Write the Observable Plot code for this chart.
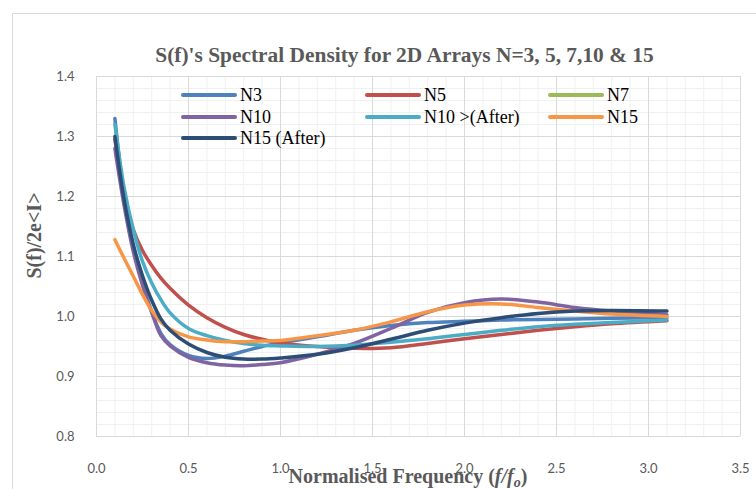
<!DOCTYPE html>
<html>
<head>
<meta charset="utf-8">
<script src="https://cdn.jsdelivr.net/npm/d3@7"></script>
<script src="https://cdn.jsdelivr.net/npm/@observablehq/plot@0.6"></script>
<style>
  html, body { margin: 0; padding: 0; background: #fff; }
  #chart { width: 756px; height: 489px; overflow: hidden; }
</style>
</head>
<body>
<div id="chart"></div>
<script>
// ---- data ----
const freq = [0.1, 0.15, 0.2, 0.25, 0.3, 0.35, 0.4, 0.5, 0.6, 0.7, 0.8, 0.9, 1.0, 1.2, 1.4, 1.6, 1.8, 2.0, 2.2, 2.4, 2.6, 2.8, 3.1];

const N3 = [1.33, 1.20, 1.115, 1.055, 1.008, 0.972, 0.953, 0.935, 0.930, 0.934, 0.942, 0.950, 0.956, 0.966, 0.977, 0.985, 0.990, 0.992, 0.994, 0.995, 0.996, 0.997, 0.998];
const N5 = [1.295, 1.205, 1.145, 1.11, 1.085, 1.064, 1.047, 1.019, 0.998, 0.982, 0.970, 0.962, 0.956, 0.950, 0.947, 0.948, 0.955, 0.963, 0.970, 0.977, 0.983, 0.988, 0.993];
const N7 = []; // listed in the legend, no visible curve in the reference
const N10 = [1.28, 1.185, 1.108, 1.052, 1.007, 0.968, 0.951, 0.932, 0.923, 0.919, 0.918, 0.920, 0.923, 0.937, 0.955, 0.980, 1.007, 1.023, 1.029, 1.024, 1.015, 1.009, 1.003];
const N10After = [1.32, 1.215, 1.145, 1.092, 1.056, 1.028, 1.006, 0.980, 0.968, 0.960, 0.955, 0.952, 0.951, 0.950, 0.952, 0.957, 0.963, 0.970, 0.977, 0.983, 0.987, 0.990, 0.994];
const N15 = [1.128, 1.097, 1.067, 1.037, 1.010, 0.991, 0.979, 0.966, 0.961, 0.958, 0.958, 0.959, 0.960, 0.968, 0.977, 0.991, 1.008, 1.019, 1.021, 1.015, 1.009, 1.004, 1.000];
const N15After = [1.30, 1.195, 1.12, 1.068, 1.027, 0.996, 0.977, 0.954, 0.940, 0.932, 0.929, 0.929, 0.931, 0.937, 0.948, 0.962, 0.977, 0.989, 0.998, 1.005, 1.009, 1.010, 1.009];

const seriesNames = ["N3", "N5", "N7", "N10", "N10 >(After)", "N15", "N15 (After)"];
const seriesValues = [N3, N5, N7, N10, N10After, N15, N15After];
const seriesColors = ["#4F81BD", "#C0504D", "#9BBB59", "#8064A2", "#4BACC6", "#F79646", "#2C4D75"];

const xTicks = [0, 0.5, 1.0, 1.5, 2.0, 2.5, 3.0, 3.5];
const yTicks = [0.8, 0.9, 1.0, 1.1, 1.2, 1.3, 1.4];

const titleText = "S(f)'s Spectral Density for 2D Arrays N=3, 5, 7,10 & 15";
const yTitleText = "S(f)/2e<I>";

// ---- build table ----
const rows = seriesNames.flatMap((name, k) =>
  seriesValues[k].map((v, i) => ({ f: freq[i], s: v, name })));

const xMinor = d3.range(0, 35.01, 1).map(d => d / 10);
const yMinor = d3.range(40, 70.01, 1).map(d => d / 50);

const W = 756, H = 489;
const mL = 96, mR = 16, mT = 76, mB = 53;
const serif = "'Liberation Serif', 'Times New Roman', serif";

const plot = Plot.plot({
  width: W,
  height: H,
  marginLeft: mL,
  marginRight: mR,
  marginTop: mT,
  marginBottom: mB,
  style: { fontFamily: "Lato, 'Liberation Sans', sans-serif", fontSize: "13px", color: "#595959", background: "#fff", overflow: "visible" },
  x: { domain: [0, 3.5], label: null },
  y: { domain: [0.8, 1.4], label: null },
  color: { domain: seriesNames, range: seriesColors },
  marks: [
    Plot.ruleX(xMinor, { stroke: "#f0f0f0", strokeWidth: 1 }),
    Plot.ruleY(yMinor, { stroke: "#f0f0f0", strokeWidth: 1 }),
    Plot.ruleX(xTicks, { stroke: "#d9d9d9", strokeWidth: 1 }),
    Plot.ruleY(yTicks, { stroke: "#d9d9d9", strokeWidth: 1 }),
    Plot.axisX({ ticks: xTicks, tickFormat: d3.format(".1f"), tickSize: 0, tickPadding: 27, label: null }),
    Plot.axisY({ ticks: yTicks, tickFormat: d3.format(".1f"), tickSize: 0, tickPadding: 22, label: null }),
    Plot.line(rows, {
      x: "f", y: "s", z: "name", stroke: "name",
      curve: "catmull-rom", strokeWidth: 3.5, strokeLinecap: "round", strokeLinejoin: "round"
    }),
    Plot.text([titleText], {
      text: d => d, frameAnchor: "top", lineAnchor: "middle", textAnchor: "middle", dx: -14, dy: -21,
      fontFamily: serif, fontWeight: "bold", fontSize: 21.4, fill: "#595959"
    }),
    Plot.text([yTitleText], {
      text: d => d, frameAnchor: "left", lineAnchor: "middle", textAnchor: "middle", dx: -62, dy: -21, rotate: -90,
      fontFamily: serif, fontWeight: "bold", fontSize: 20, fill: "#595959"
    })
  ]
});

document.getElementById("chart").appendChild(plot);

// ---- chart-area border, x-axis title, legend ----
const svg = d3.select(plot);
svg.append("line").attr("x1", 12.5).attr("x2", W).attr("y1", 13.5).attr("y2", 13.5)
  .attr("stroke", "#d9d9d9").attr("stroke-width", 1);
svg.append("line").attr("x1", 12.5).attr("x2", 12.5).attr("y1", 13.5).attr("y2", H)
  .attr("stroke", "#d9d9d9").attr("stroke-width", 1);

const xt = svg.append("text")
  .attr("x", 408).attr("y", 483)
  .attr("text-anchor", "middle")
  .attr("font-family", serif)
  .attr("font-weight", "bold").attr("font-size", 20).attr("fill", "#595959");
xt.append("tspan").text("Normalised Frequency (");
xt.append("tspan").attr("font-style", "italic").text("f/f");
xt.append("tspan").attr("font-style", "italic").attr("font-size", 14).attr("dy", 4).text("o");
xt.append("tspan").attr("dy", -4).text(")");

const legCols = [183, 367, 550];
const legRows = [95, 117, 138];
const leg = svg.append("g").attr("text-anchor", "start");
seriesNames.forEach((name, k) => {
  const cx = legCols[k % 3], cy = legRows[Math.floor(k / 3)];
  leg.append("line").attr("x1", cx).attr("x2", cx + 52).attr("y1", cy).attr("y2", cy)
    .attr("stroke", seriesColors[k]).attr("stroke-width", 4).attr("stroke-linecap", "round");
  leg.append("text").attr("x", cx + 57).attr("y", cy + 6)
    .attr("text-anchor", "start")
    .attr("font-family", serif)
    .attr("font-size", 18).attr("fill", "#000").text(name);
});
</script>
</body>
</html>
